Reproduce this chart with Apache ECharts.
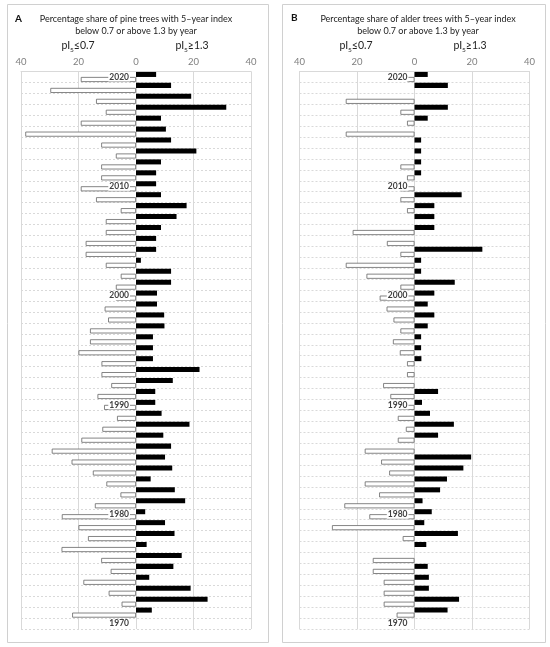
<!DOCTYPE html>
<html>
<head>
<meta charset="utf-8">
<script src="https://cdn.jsdelivr.net/npm/echarts@6/dist/echarts.min.js"></script>
<style>
html,body{margin:0;padding:0;background:#fff;}
#chart{width:550px;height:647px;}
</style>
</head>
<body>
<div id="chart"></div>
<script>
// Years, top (2020) to bottom (1970)
var years = [];
for (var y = 2020; y >= 1970; y--) years.push(String(y));

// A: pine trees (percent)
var pineHigh = [7.0,12.2,19.2,31.4,8.7,10.4,12.2,21.0,8.7,7.0,
                7.0,8.7,17.6,14.1,8.7,7.0,7.0,1.7,12.2,12.2,
                7.3,7.3,9.8,9.9,5.9,5.9,5.9,22.1,12.8,6.7,
                6.7,8.9,18.6,9.5,12.2,10.1,12.6,5.1,13.5,17.1,
                3.2,10.1,13.4,3.7,15.9,13.0,4.6,19.0,24.9,5.5,null];
var pineLow  = [19.2,29.8,13.9,10.5,19.2,38.5,12.1,7.0,12.1,12.1,
                19.2,13.9,5.3,10.5,10.5,17.5,17.5,10.5,5.3,7.0,
                7.0,10.9,9.7,16.0,16.0,20.0,12.0,12.0,8.6,13.4,
                11.1,6.6,11.7,19.0,29.3,22.4,15.0,10.3,5.4,14.3,
                25.8,20.0,16.7,25.9,12.1,8.8,18.3,9.5,5.0,22.2,null];

// B: alder trees (percent)
var alderHigh = [4.6,11.6,0,11.6,4.6,0,2.3,2.3,2.3,2.3,
                 0,16.4,6.9,6.9,6.9,0,23.6,2.3,2.3,14.0,
                 6.9,4.6,6.9,4.6,2.3,2.3,2.4,0,0,8.2,
                 2.6,5.4,13.7,8.2,0,19.7,17.0,11.3,8.9,2.8,
                 6.0,3.4,15.1,4.1,0,4.6,5.0,5.0,15.5,11.5,null];
var alderLow  = [2.6,0,23.9,4.9,2.6,23.9,0,0,4.9,2.6,
                 4.9,4.9,2.6,0,21.5,9.6,4.9,23.9,16.7,4.9,
                 12.1,9.7,7.3,4.9,7.5,5.1,2.6,2.6,10.9,8.4,
                 5.8,5.8,3.0,5.8,17.3,11.6,8.8,17.3,12.3,24.4,
                 15.7,28.7,4.1,0,14.5,14.5,10.7,10.7,10.7,6.2,null];

var xTicks = {min:-40, max:40, interval:20};

var FONT = 'Lato';
var GRID_W = 230;
var chart = echarts.init(document.getElementById('chart'), null, {renderer:'canvas'});

function xAxisDef(gi){
  return {
    type:'value', gridIndex:gi, position:'top',
    min:xTicks.min, max:xTicks.max, interval:xTicks.interval,
    axisLine:{show:true, onZero:false, lineStyle:{color:'#d9d9d9', width:1}},
    axisTick:{show:false},
    axisLabel:{color:'#7f7f7f', fontSize:9.5, fontFamily:FONT, margin:5,
      formatter:function(v){return String(Math.abs(v));}},
    splitLine:{show:true, lineStyle:{color:'#d9d9d9', width:1}}
  };
}
// grid lines axis (behind bars)
function yGridAxisDef(gi){
  return {
    type:'category', gridIndex:gi, data:years, inverse:true,
    position:'left', offset:-GRID_W/2,
    axisLine:{show:false, onZero:false},
    axisTick:{show:false},
    axisLabel:{show:false},
    splitLine:{show:true, interval:0, lineStyle:{color:'#d9d9d9', type:[2,2], width:1}}
  };
}
// year labels axis (above bars)
function yLabelAxisDef(gi){
  return {
    type:'category', gridIndex:gi, data:years, inverse:true, z:4,
    position:'left', offset:-GRID_W/2,
    axisLine:{show:false, onZero:false},
    axisTick:{show:false},
    splitLine:{show:false},
    axisLabel:{
      interval:function(i, v){ return Number(v) % 10 === 0; },
      color:'#404040', fontSize:8.5, fontWeight:'bold', fontFamily:FONT,
      backgroundColor:'#fff', padding:[0,1,0,1], margin:6
    }
  };
}
function highData(arr){ return arr.map(function(v){ return v ? v : null; }); }
function lowData(arr){ return arr.map(function(v){ return v ? -v : null; }); }

function blackSeries(xi, yi, arr){
  return {type:'bar', xAxisIndex:xi, yAxisIndex:yi, data:highData(arr),
    barGap:'0%', barCategoryGap:'8%', itemStyle:{color:'#000'}, silent:true};
}
function whiteSeries(xi, yi, arr){
  return {type:'bar', xAxisIndex:xi, yAxisIndex:yi, data:lowData(arr),
    barGap:'0%', barCategoryGap:'8%',
    itemStyle:{color:'#fff', borderColor:'#666', borderWidth:0.8}, silent:true};
}

function headerText(x, sym){
  return {type:'text', x:x, y:47, z:10,
    style:{text:'{a|pI}{s|5}{a|' + sym + '}', align:'center', verticalAlign:'middle',
      rich:{
        a:{fontSize:10.5, fontFamily:FONT, fill:'#222', color:'#222', lineHeight:13, verticalAlign:'top'},
        s:{fontSize:6.5, fontFamily:FONT, fill:'#222', color:'#222', lineHeight:8, padding:[6,0,0,0], verticalAlign:'bottom'}
      }}};
}
function titleLine(x, y, txt){
  return {type:'text', x:x, y:y, z:10,
    style:{text:txt, align:'center', verticalAlign:'middle',
      font:'9px ' + FONT, fill:'#222'}};
}

var option = {
  animation:false,
  backgroundColor:'#fff',
  grid:[
    {left:21, top:71.5, width:GRID_W, height:557.5},
    {left:299.5, top:71.5, width:GRID_W, height:557.5}
  ],
  xAxis:[xAxisDef(0), xAxisDef(1)],
  yAxis:[yGridAxisDef(0), yLabelAxisDef(0), yGridAxisDef(1), yLabelAxisDef(1)],
  series:[
    blackSeries(0, 0, pineHigh), whiteSeries(0, 0, pineLow),
    blackSeries(1, 2, alderHigh), whiteSeries(1, 2, alderLow)
  ],
  graphic:[
    {type:'rect', shape:{x:7.5, y:4.5, width:261, height:638}, style:{fill:'none', stroke:'#d0d0d0', lineWidth:1}, z:0},
    {type:'rect', shape:{x:282.5, y:4.5, width:263, height:638}, style:{fill:'none', stroke:'#d0d0d0', lineWidth:1}, z:0},
    {type:'text', x:15, y:19, z:10, style:{text:'A', font:'bold 10px ' + FONT, fill:'#111', verticalAlign:'middle'}},
    {type:'text', x:291, y:18, z:10, style:{text:'B', font:'bold 10px ' + FONT, fill:'#111', verticalAlign:'middle'}},
    titleLine(136, 19, 'Percentage share of pine trees with 5\u2013year index'),
    titleLine(136, 31, 'below 0.7 or above 1.3 by year'),
    titleLine(418, 19, 'Percentage share of alder trees with 5\u2013year index'),
    titleLine(418, 31, 'below 0.7 or above 1.3 by year'),
    headerText(78, '\u22640.7'),
    headerText(192, '\u22651.3'),
    headerText(356, '\u22640.7'),
    headerText(470, '\u22651.3')
  ]
};
chart.setOption(option);
</script>
</body>
</html>
